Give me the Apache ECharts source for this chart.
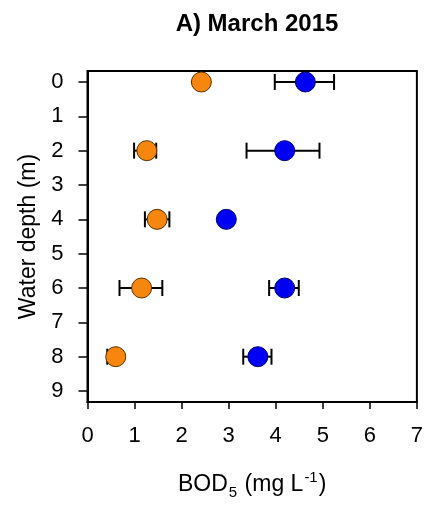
<!DOCTYPE html>
<html>
<head>
<meta charset="utf-8">
<script src="https://cdn.jsdelivr.net/npm/echarts@6/dist/echarts.min.js"></script>
<style>
html,body{margin:0;padding:0;background:#fff;}
#chart{width:426px;height:506px;}
</style>
</head>
<body>
<div id="chart"></div>
<script>
var depths = [0, 2, 4, 6, 8];
var orangeMean = [2.42, 1.26, 1.48, 1.15, 0.60];
var orangeLow  = [2.32, 0.99, 1.22, 0.68, 0.42];
var orangeHigh = [2.52, 1.46, 1.74, 1.59, 0.70];
var blueMean = [4.63, 4.19, 2.95, 4.19, 3.62];
var blueLow  = [3.98, 3.38, 2.85, 3.86, 3.31];
var blueHigh = [5.24, 4.93, 3.05, 4.49, 3.91];
var yTicks = [0, 1, 2, 3, 4, 5, 6, 7, 8, 9];
var xTicks = [0, 1, 2, 3, 4, 5, 6, 7];

var FONT = 'Liberation Sans, Arial, sans-serif';

function errData(lo, hi) {
  return depths.map(function (d, i) { return [lo[i], hi[i], d]; });
}
function ptData(m) {
  return depths.map(function (d, i) { return [m[i], d]; });
}
function renderErr(params, api) {
  var p1 = api.coord([api.value(0), api.value(2)]);
  var p2 = api.coord([api.value(1), api.value(2)]);
  var h = 8;
  var st = { stroke: '#000', lineWidth: 2 };
  return {
    type: 'group',
    children: [
      { type: 'line', shape: { x1: p1[0], y1: p1[1], x2: p2[0], y2: p2[1] }, style: st },
      { type: 'line', shape: { x1: p1[0], y1: p1[1] - h, x2: p1[0], y2: p1[1] + h }, style: st },
      { type: 'line', shape: { x1: p2[0], y1: p2[1] - h, x2: p2[0], y2: p2[1] + h }, style: st }
    ]
  };
}

var chart = echarts.init(document.getElementById('chart'), null, { renderer: 'canvas' });
chart.setOption({
  animation: false,
  backgroundColor: '#fff',
  title: {
    text: 'A) March 2015',
    left: 252, top: 7, textAlign: 'center',
    textStyle: { fontFamily: FONT, fontSize: 24, fontWeight: 'bold', color: '#000' }
  },
  grid: {
    left: 87.5, right: 8.5, top: 71, bottom: 104,
    show: true, borderColor: '#000', borderWidth: 2, backgroundColor: 'transparent'
  },
  xAxis: {
    type: 'value', min: 0, max: 7, interval: 1,
    name: '{n|BOD}{sub|5}{n| (mg L}{sup|-1}{n|)}',
    nameLocation: 'middle', nameGap: 68,
    nameTextStyle: {
      rich: {
        n: { fontFamily: FONT, fontSize: 23, color: '#000', lineHeight: 30, verticalAlign: 'middle' },
        sub: { fontFamily: FONT, fontSize: 15, color: '#000', verticalAlign: 'bottom', lineHeight: 14, padding: [0, 1, 0, 1] },
        sup: { fontFamily: FONT, fontSize: 15, color: '#000', verticalAlign: 'top', lineHeight: 14, padding: [0, 1, 0, 1] }
      }
    },
    axisLine: { show: true, onZero: false, lineStyle: { color: '#000', width: 2 } },
    axisTick: { show: true, length: 7, lineStyle: { color: '#000', width: 1.5 } },
    axisLabel: { margin: 23, fontFamily: FONT, fontSize: 22, color: '#000' },
    splitLine: { show: false }
  },
  yAxis: {
    type: 'value', inverse: true, min: -0.32, max: 9.32,
    name: 'Water depth (m)', nameLocation: 'middle', nameGap: 46, nameRotate: 90,
    nameTextStyle: { fontFamily: FONT, fontSize: 23, color: '#000' },
    axisLine: { show: true, onZero: false, lineStyle: { color: '#000', width: 2 } },
    axisTick: { show: true, length: 9, lineStyle: { color: '#000', width: 1.5 }, customValues: yTicks },
    axisLabel: { margin: 24, fontFamily: FONT, fontSize: 22, color: '#000', customValues: yTicks },
    splitLine: { show: false }
  },
  series: [
    { type: 'custom', renderItem: renderErr, data: errData(orangeLow, orangeHigh), z: 2 },
    { type: 'custom', renderItem: renderErr, data: errData(blueLow, blueHigh), z: 2 },
    { type: 'scatter', data: ptData(orangeMean), symbolSize: 20, z: 3,
      itemStyle: { color: '#F7860F', borderColor: '#5a3000', borderWidth: 1, opacity: 1 } },
    { type: 'scatter', data: ptData(blueMean), symbolSize: 20, z: 3,
      itemStyle: { color: '#0000F5', borderColor: '#00006a', borderWidth: 1, opacity: 1 } }
  ]
});
</script>
</body>
</html>
